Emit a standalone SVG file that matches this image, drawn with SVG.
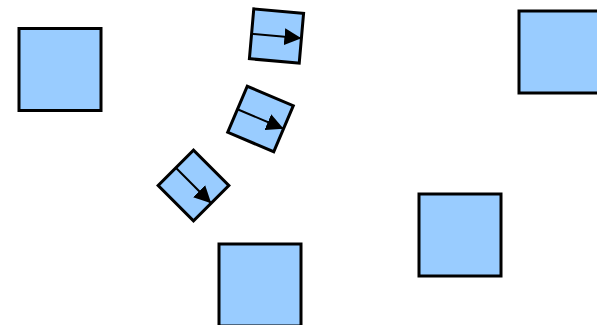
<svg xmlns="http://www.w3.org/2000/svg" width="597" height="325" viewBox="0 0 597 325">
<style>
.big{fill:#99ccff;stroke:#000;stroke-width:3}
.small{fill:#99ccff;stroke:#000;stroke-width:3}
.arr{stroke:#000;stroke-width:2;fill:none}
</style>
<defs>
<marker id="ah" markerUnits="userSpaceOnUse" markerWidth="17" markerHeight="17" viewBox="0 0 17 17" refX="17" refY="8.5" orient="auto">
<path d="M0,0 L17,8.5 L0,17 Z" fill="#000"/>
</marker>
</defs>
<rect width="597" height="325" fill="#fff"/>
<g id="sq1"><rect class="big" x="19" y="28.5" width="82" height="82"/></g>
<g id="sq2"><rect class="big" x="519" y="11" width="82" height="82"/></g>
<g id="sq3"><rect class="big" x="419" y="194" width="82" height="82"/></g>
<g id="sq4"><rect class="big" x="219" y="244" width="82" height="82"/></g>
<g id="r1" transform="translate(276.5,36) rotate(5)"><rect class="small" x="-25" y="-25" width="50" height="50"/></g>
<g id="r2" transform="translate(260.5,119) rotate(23)"><rect class="small" x="-25" y="-25" width="50" height="50"/></g>
<g id="r3" transform="translate(193.5,185.5) rotate(45)"><rect class="small" x="-25" y="-25" width="50" height="50"/></g>
<g id="connectors">
<line class="arr" marker-end="url(#ah)" transform="translate(276.5,36) rotate(5)" x1="-25" y1="0" x2="25" y2="0"/>
<line class="arr" marker-end="url(#ah)" transform="translate(260.5,119) rotate(23)" x1="-25" y1="0" x2="25" y2="0"/>
<line class="arr" marker-end="url(#ah)" transform="translate(193.5,185.5) rotate(45)" x1="-25" y1="0" x2="25" y2="0"/>
</g>
</svg>
